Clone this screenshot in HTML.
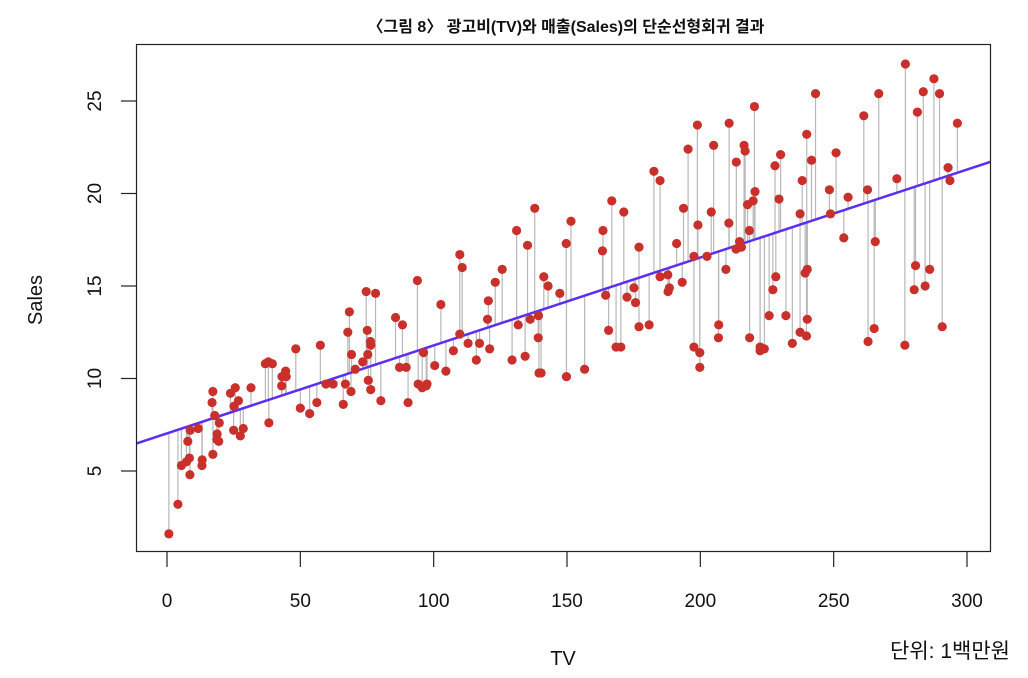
<!DOCTYPE html>
<html><head><meta charset="utf-8"><style>
html,body{margin:0;padding:0;background:#fff;width:1028px;height:678px;overflow:hidden}
text{font-family:"Liberation Sans","Noto Sans CJK KR",sans-serif}
</style></head><body>
<svg id="chart" width="1028" height="678" xmlns="http://www.w3.org/2000/svg">
<text x="566" y="32" text-anchor="middle" font-size="16" font-weight="bold" fill="#111">〈그림 8〉 광고비(TV)와 매출(Sales)의 단순선형회귀 결과</text>
<g id="resid"></g>
<line id="fit" stroke="#5b2ef2" stroke-width="2.5"/>
<g id="pts"></g>
<rect x="136.5" y="44.5" width="854" height="507" fill="none" stroke="#222" stroke-width="1.2"/>
<g id="axes"></g>
<text transform="translate(42,300) rotate(-90)" text-anchor="middle" font-size="20" fill="#111">Sales</text>
<text x="563" y="665" text-anchor="middle" font-size="20" fill="#111">TV</text>
<text x="1010" y="658" text-anchor="end" font-size="21" fill="#111">단위: 1백만원</text>
</svg>
<script>
const tv=[230.1,44.5,17.2,151.5,180.8,8.7,57.5,120.2,8.6,199.8,66.1,214.7,23.8,97.5,204.1,195.4,67.8,281.4,69.2,147.3,218.4,237.4,13.2,228.3,62.3,262.9,142.9,240.1,248.8,70.6,292.9,112.9,97.2,265.6,95.7,290.7,266.9,74.7,43.1,228,202.5,177,293.6,206.9,25.1,175.1,89.7,239.9,227.2,66.9,199.8,100.4,216.4,182.6,262.7,198.9,7.3,136.2,210.8,210.7,53.5,261.3,239.3,102.7,131.1,69,31.5,139.3,237.4,216.8,199.1,109.8,26.8,129.4,213.4,16.9,27.5,120.5,5.4,116,76.4,239.8,75.3,68.4,213.5,193.2,76.3,110.7,88.3,109.8,134.3,28.6,217.7,250.9,107.4,163.3,197.6,184.9,289.7,135.2,222.4,296.4,280.2,187.9,238.2,137.9,25,90.4,13.1,255.4,225.8,241.7,175.7,209.6,78.2,75.1,139.2,76.4,125.7,19.4,141.3,18.8,224,123.1,229.5,87.2,7.8,80.2,220.3,59.6,0.7,265.2,8.4,219.8,36.9,48.3,25.6,273.7,43,184.9,73.4,193.7,220.5,104.6,96.2,140.3,240.1,243.2,38,44.7,280.7,121,197.6,171.3,187.8,4.1,93.9,149.8,11.7,131.7,172.5,85.7,188.4,163.5,117.2,234.5,17.9,206.8,215.4,284.3,50,164.5,19.6,168.4,222.4,276.9,248.4,170.2,276.7,165.6,156.6,218.5,56.2,287.6,253.8,205,139.5,191.1,286,18.7,39.5,75.5,17.2,166.8,149.7,38.2,94.2,177,283.6,232.1];
const sales=[22.1,10.4,9.3,18.5,12.9,7.2,11.8,13.2,4.8,10.6,8.6,17.4,9.2,9.7,19,22.4,12.5,24.4,11.3,14.6,18,12.5,5.6,15.5,9.7,12,15,15.9,18.9,10.5,21.4,11.9,9.6,17.4,9.5,12.8,25.4,14.7,10.1,21.5,16.6,17.1,20.7,12.9,8.5,14.9,10.6,23.2,14.8,9.7,11.4,10.7,22.6,21.2,20.2,23.7,5.5,13.2,23.8,18.4,8.1,24.2,15.7,14,18,9.3,9.5,13.4,18.9,22.3,18.3,12.4,8.8,11,17,8.7,6.9,14.2,5.3,11,11.8,12.3,11.3,13.6,21.7,15.2,12,16,12.9,16.7,11.2,7.3,19.4,22.2,11.5,16.9,11.7,15.5,25.4,17.2,11.7,23.8,14.8,14.7,20.7,19.2,7.2,8.7,5.3,19.8,13.4,21.8,14.1,15.9,14.6,12.6,12.2,9.4,15.9,6.6,15.5,7,11.6,15.2,19.7,10.6,6.6,8.8,24.7,9.7,1.6,12.7,5.7,19.6,10.8,11.6,9.5,20.8,9.6,20.7,10.9,19.2,20.1,10.4,11.4,10.3,13.2,25.4,10.9,10.1,16.1,11.6,16.6,19,15.6,3.2,15.3,10.1,7.3,12.9,14.4,13.3,14.9,18,11.9,11.9,8,12.2,17.1,15,8.4,14.5,7.6,11.7,11.5,27,20.2,11.7,11.8,12.6,10.5,12.2,8.7,26.2,17.6,22.6,10.3,17.3,15.9,6.7,10.8,9.9,5.9,19.6,17.3,7.6,9.7,12.8,25.5,13.4];
const xTicks=[0,50,100,150,200,250,300];
const yTicks=[5,10,15,20,25];
const coef=[7.0326,0.04754];
const NS="http://www.w3.org/2000/svg";
const X=v=>167+v*800/300, Y=v=>471-(v-5)*18.5;
const fitv=v=>coef[0]+coef[1]*v;
function mk(t,a,p){const e=document.createElementNS(NS,t);for(const k in a)e.setAttribute(k,a[k]);p.appendChild(e);return e;}
const fit=document.getElementById('fit');
fit.setAttribute('x1',136.5);fit.setAttribute('y1',Y(fitv((136.5-167)*300/800)));
fit.setAttribute('x2',990.5);fit.setAttribute('y2',Y(fitv((990.5-167)*300/800)));
const rg=document.getElementById('resid'),pg=document.getElementById('pts'),ax=document.getElementById('axes');
tv.forEach((t,i)=>{
 const l=mk('line',{x1:X(t),x2:X(t),y1:Y(sales[i]),y2:Y(fitv(t)),stroke:'#b8b8b8','stroke-width':1.2},rg);
 
 
});
tv.forEach((t,i)=>{
 const c=mk('circle',{cx:X(t),cy:Y(sales[i]),r:4.6,fill:'#c9302c'},pg);
 
 
});
xTicks.forEach(v=>{
 const l=mk('line',{x1:X(v),x2:X(v),y1:551,y2:567,stroke:'#222','stroke-width':1.2},ax);
 
 
 const t=mk('text',{x:X(v),y:607,'text-anchor':'middle','font-size':19,fill:'#111'},ax);
 t.textContent=v;
 
 
});
yTicks.forEach(v=>{
 const l=mk('line',{x1:121,x2:136,y1:Y(v),y2:Y(v),stroke:'#222','stroke-width':1.2},ax);
 
 
 const t=mk('text',{transform:`translate(101,${Y(v)}) rotate(-90)`,'text-anchor':'middle','font-size':19,fill:'#111'},ax);
 t.textContent=v;
 
 
});
</script>
</body></html>
